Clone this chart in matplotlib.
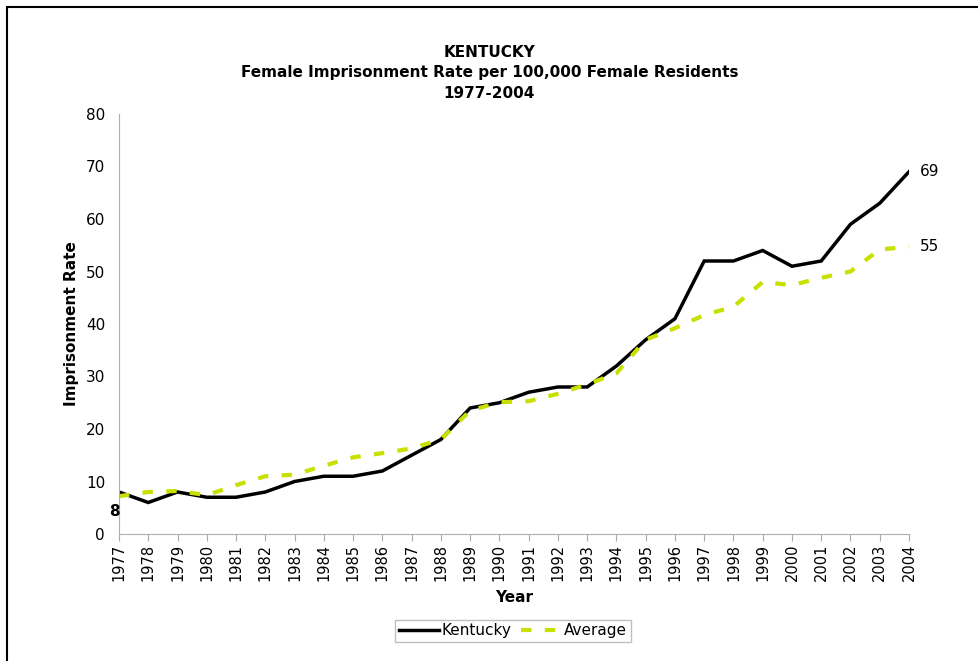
import matplotlib
matplotlib.use("Agg")
import matplotlib.pyplot as plt

# data
years = list(range(1977, 2005))
kentucky = [8, 6, 8, 7, 7, 8, 10, 11, 11, 12, 15, 18, 24, 25, 27, 28, 28,
            32, 37, 41, 52, 52, 54, 51, 52, 59, 63, 69]
average = [7.2, 8, 8.2, 7.4, 9.3, 11, 11.3, 13, 14.6, 15.4, 16.3, 18, 23.5,
           25.1, 25.3, 26.7, 28.5, 30.6, 37, 39.2, 41.7, 43.3, 48, 47.4,
           48.8, 50, 54.2, 54.7]

plt.rcParams['font.family'] = ['DejaVu Sans']

fig = plt.figure(figsize=(9.79, 6.61), dpi=100)
ax = fig.add_axes([119 / 979, 1 - 534 / 661, (909 - 119) / 979, (534 - 114) / 661])

# outer frame like the pasted chart
fig.add_artist(plt.Rectangle((7 / 979, -0.01), 1.1, 1 - 7 / 661 + 0.01,
                             transform=fig.transFigure, fill=False,
                             edgecolor='black', linewidth=1.5))

ax.plot(years, kentucky, color='black', linewidth=2.5, label='Kentucky',
        solid_joinstyle='miter')
ax.plot(years, average, color='#c8e000', linewidth=3, linestyle=(0, (2.5, 3.2)),
        label='Average')

ax.set_xlim(years[0], years[-1])
ax.set_ylim(0, 80)
ax.set_yticks(range(0, 81, 10))
ax.set_xticks(years)
ax.set_xticklabels([str(y) for y in years], rotation=90)
ax.tick_params(axis='y', length=0, labelsize=11, pad=10)
ax.tick_params(axis='x', length=5, color='#aaaaaa', labelsize=10.5, pad=2)

for side in ['top', 'right']:
    ax.spines[side].set_visible(False)
for side in ['left', 'bottom']:
    ax.spines[side].set_color('#b0b0b0')

# value labels
ax.annotate(str(kentucky[0]), (years[0], kentucky[0]), xytext=(-3, -14),
            textcoords='offset points', ha='center', va='center',
            fontsize=11, fontweight='bold')
ax.annotate(str(kentucky[-1]), (years[-1], kentucky[-1]), xytext=(8, 0),
            textcoords='offset points', ha='left', va='center', fontsize=11)
ax.annotate(str(round(average[-1])), (years[-1], average[-1]), xytext=(8, 0),
            textcoords='offset points', ha='left', va='center', fontsize=11)

ax.set_ylabel('Imprisonment Rate', fontsize=11, fontweight='bold', labelpad=5)
ax.set_xlabel('Year', fontsize=11, fontweight='bold', labelpad=6)

fig.text(0.5, 1 - 73 / 661, 'KENTUCKY\nFemale Imprisonment Rate per 100,000 Female Residents\n1977-2004',
         ha='center', va='center', fontsize=11, fontweight='bold',
         linespacing=1.45)

leg = fig.legend(loc='center', bbox_to_anchor=(513 / 979, 1 - 631 / 661),
                 ncol=2, frameon=True, fancybox=False, fontsize=11,
                 handlelength=2.6, columnspacing=0.6, handletextpad=0.2,
                 borderpad=0.25)
leg.get_frame().set_edgecolor('#b0b0b0')
leg.get_frame().set_linewidth(1)

fig.savefig('out.png', dpi=100)
